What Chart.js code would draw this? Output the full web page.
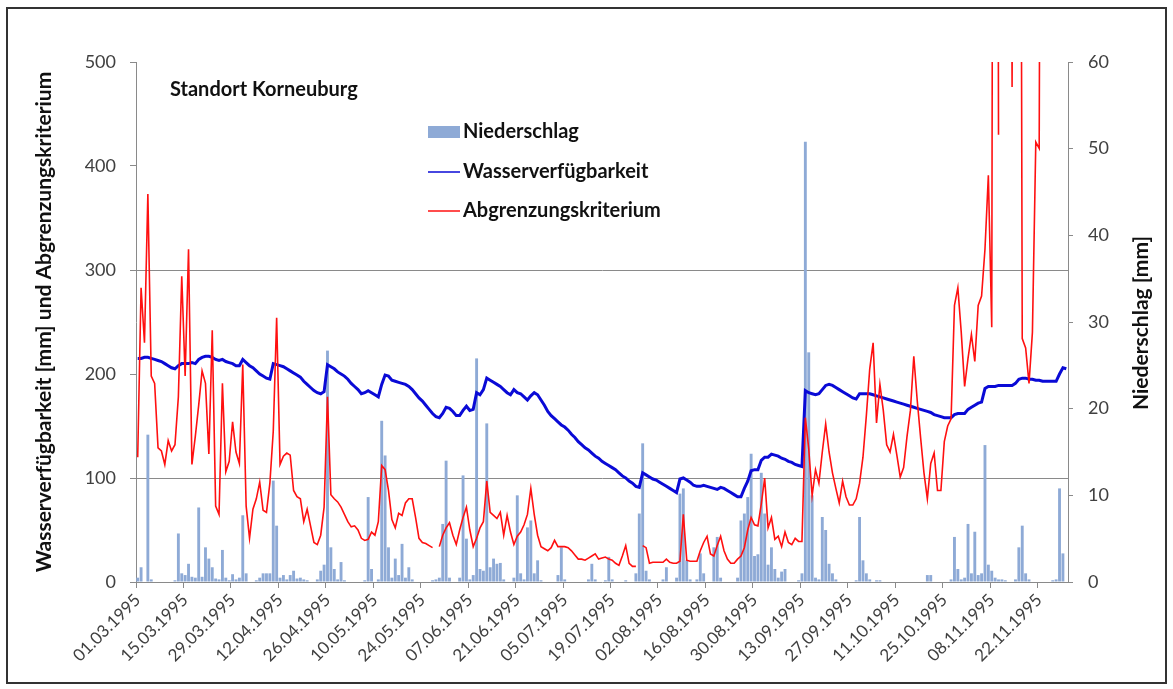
<!DOCTYPE html>
<html>
<head>
<meta charset="utf-8">
<script src="https://cdn.jsdelivr.net/npm/chart.js@4.4.0/dist/chart.umd.min.js"></script>
<style>
    html, body { margin: 0; padding: 0; background: #fff; }
    #wrap { width: 1173px; height: 689px; }
</style>
</head>
<body>
<div id="wrap"><canvas id="chart" width="1173" height="689"></canvas></div>
<script>
// Tageswerte 01.03.1995 - 30.11.1995 (275 Tage)
const FIRST_DAY = [1995, 2, 1];
const DAY_COUNT = 275;
const LABEL_EVERY = 14;

const chartTitle = "Standort Korneuburg";
const leftTitle = "Wasserverfügbarkeit [mm] und Abgrenzungskriterium";
const rightTitle = "Niederschlag [mm]";

// Niederschlag [mm] (rechte Achse)
const niederschlag = [
    0.5, 1.7, 0, 17, 0.3, 0, 0, 0, 0, 0, 0, 0.2, 5.6, 1.0,
    0.8, 2.1, 0.6, 0.5, 8.6, 0.6, 4.0, 2.7, 1.7, 0.4, 0.3, 3.7, 0.5, 0.2,
    0.9, 0.3, 0.5, 7.7, 1.0, 0, 0, 0.2, 0.5, 1.0, 1.0, 1.0, 11.7, 6.5,
    0.5, 0.8, 0.3, 0.8, 1.3, 0.4, 0.5, 0.3, 0.2, 0, 0, 0.3, 1.3, 2.0,
    26.7, 4.0, 1.5, 0.3, 2.3, 0.2, 0, 0, 0, 0, 0, 0.2, 9.8, 1.5,
    0, 0.3, 18.6, 14.6, 4.0, 0.5, 2.7, 0.8, 4.4, 0.5, 1.7, 0.3, 0, 0,
    0, 0, 0, 0.2, 0.3, 0.5, 6.7, 14.0, 0.5, 0, 0, 0.5, 12.3, 5.0,
    0.3, 0.8, 25.8, 1.5, 1.3, 18.3, 1.7, 2.7, 2.1, 2.2, 0.3, 0, 0, 0.5,
    10.0, 1.0, 0.3, 6.3, 7.1, 1.0, 2.5, 0.2, 0, 0, 0, 0, 0.8, 4.0,
    0.3, 0, 0, 0, 0, 0, 0, 0.3, 2.1, 0.3, 0, 0, 0.2, 2.9,
    0.3, 0, 0, 0, 0.2, 0, 0, 1.0, 7.9, 16.0, 1.3, 0.3, 0, 0,
    0, 0.3, 1.7, 0, 0, 0.5, 10.2, 10.8, 2.5, 0.3, 0, 0.3, 3.3, 1.0,
    0, 0, 4.0, 5.2, 0.5, 0, 0, 0, 0, 0.5, 7.1, 7.9, 9.8, 14.8,
    3.0, 3.2, 12.6, 7.9, 2.0, 4.0, 1.5, 0.5, 1.2, 1.5, 0, 0, 0, 0.2,
    1.0, 50.8, 26.5, 10.0, 0.5, 0.3, 7.5, 6.0, 2.1, 1.0, 0.3, 0, 0, 0,
    0, 0, 0.2, 7.5, 2.5, 1.0, 0.3, 0, 0.2, 0.2, 0, 0, 0, 0,
    0, 0, 0, 0, 0, 0, 0, 0, 0, 0.8, 0.8, 0, 0, 0,
    0, 0, 0.3, 5.2, 1.5, 0.3, 0.5, 6.7, 1.0, 5.8, 0.8, 1.0, 15.8, 2.0,
    1.3, 0.5, 0.3, 0.3, 0.2, 0, 0, 0.3, 4.0, 6.5, 1.0, 0.3, 0, 0,
    0, 0, 0, 0, 0.2, 0.3, 10.8, 3.3, 0
];

// Wasserverfügbarkeit [mm] (linke Achse)
const wasserverfuegbarkeit = [
    215, 215, 216, 216, 215, 214, 213, 212, 210, 208, 206, 205, 208, 210,
    210, 210, 211, 210, 214, 216, 217, 217, 216, 214, 213, 214, 212, 211,
    210, 208, 208, 214, 211, 208, 206, 203, 200, 198, 196, 195, 210, 209,
    208, 207, 205, 203, 201, 199, 197, 193, 190, 187, 184, 182, 181, 183,
    209, 207, 205, 202, 200, 198, 195, 191, 188, 185, 181, 182, 184, 182,
    180, 178, 190, 199, 198, 194, 193, 192, 191, 190, 188, 185, 181, 177,
    174, 170, 166, 162, 159, 158, 162, 168, 167, 164, 160, 160, 165, 169,
    165, 166, 182, 180, 185, 196, 194, 192, 190, 188, 185, 182, 180, 185,
    182, 181, 178, 175, 179, 182, 180, 175, 170, 164, 160, 157, 154, 151,
    149, 146, 142, 139, 135, 132, 129, 127, 124, 121, 119, 116, 114, 112,
    110, 108, 105, 102, 100, 97, 95, 92, 91, 105, 103, 101, 99, 98,
    96, 94, 92, 90, 88, 86, 99, 100, 98, 96, 93, 92, 92, 93,
    92, 91, 90, 89, 91, 90, 88, 86, 84, 82, 82, 90, 97, 107,
    108, 108, 117, 120, 120, 123, 122, 121, 119, 118, 116, 115, 113, 112,
    111, 184, 182, 181, 180, 181, 185, 189, 190, 189, 187, 185, 183, 181,
    179, 177, 176, 181, 181, 181, 181, 180, 179, 178, 177, 176, 175, 174,
    173, 172, 171, 170, 169, 168, 167, 166, 165, 164, 163, 161, 160, 159,
    158, 158, 158, 161, 162, 162, 162, 166, 168, 170, 172, 173, 186, 188,
    188, 188, 189, 189, 189, 189, 189, 191, 195, 196, 196, 195, 195, 194,
    194, 193, 193, 193, 193, 193, 200, 206, 205
];

// Abgrenzungskriterium (linke Achse), null = kein Wert
const abgrenzungskriterium = [
    120, 283, 230, 373, 198, 191, 129, 126, 113, 136, 126, 132, 178, 294,
    198, 320, 113, 140, 170, 203, 191, 123, 242, 73, 65, 191, 106, 116,
    154, 125, 114, 209, 73, 42, 70, 80, 96, 69, 67, 95, 145, 254,
    113, 121, 124, 122, 88, 82, 80, 58, 70, 54, 38, 36, 45, 72,
    178, 84, 80, 77, 72, 65, 58, 53, 54, 50, 42, 40, 41, 48,
    45, 58, 112, 108, 88, 60, 52, 66, 64, 76, 80, 80, 62, 42,
    38, 37, 35, 33, null, 34, 45, 52, 57, 45, 36, 50, 62, 72,
    50, 34, 42, 52, 58, 97, 67, 64, 61, 67, 45, 64, 48, 36,
    44, 48, 55, 65, 90, 65, 45, 34, 32, 30, 33, 40, 34, 34,
    34, 33, 30, 26, 22, 22, 21, 23, 25, 27, 22, 23, 24, 22,
    21, 18, 16, 25, 35, 18, 15, 15, null, 35, 33, 18, 19, 19,
    19, 19, 22, 19, 18, 18, 20, 65, 21, 20, 20, 20, 30, 38,
    44, 27, 25, 35, 44, 30, 22, 18, 18, 22, 25, 33, 50, 62,
    55, 54, 75, 100, 52, 62, 41, 44, 34, 48, 38, 36, 42, 39,
    39, 158, 128, 83, 108, 95, 125, 152, 125, 105, 90, 76, 97, 82,
    74, 74, 80, 95, 120, 160, 205, 230, 153, 190, 165, 132, 125, 142,
    122, 101, 110, 140, 165, 217, 175, 139, 105, 80, 114, 124, 88, 88,
    135, 150, 157, 266, 283, 240, 188, 215, 238, 212, 266, 275, 320, 391,
    245, 2000, 430, null, null, 1500, 476, 1500, 1500, 234, 225, 191, 240, 423,
    417, 1500, null, null, null, null, null, null, null
];

// Achsen
const leftTicks = [0, 100, 200, 300, 400, 500];
const rightTicks = [0, 10, 20, 30, 40, 50, 60];
const leftGridAt = [100, 300];

// Farben
const barColor = "#8eaad6";
const blueColor = "#0a0ad6";
const redColor = "#ff1010";
const axisColor = "#8a8a8a";
const tickText = "#404040";
const FONT = "Lato, 'Open Sans', sans-serif";

function pad2(n) { return (n < 10 ? "0" : "") + n; }

const dateLabels = [];
for (let i = 0; i < DAY_COUNT; i++) {
    const d = new Date(FIRST_DAY[0], FIRST_DAY[1], FIRST_DAY[2] + i);
    dateLabels.push(pad2(d.getDate()) + "." + pad2(d.getMonth() + 1) + "." + d.getFullYear());
}

/* ===== frame, title, right axis title, legend ===== */
const decorPlugin = {
    id: "decor",
    beforeDraw(chart) {
        const ctx = chart.ctx;
        ctx.save();
        ctx.fillStyle = "#fff";
        ctx.fillRect(0, 0, chart.width, chart.height);
        ctx.restore();
    },
    afterDraw(chart) {
        const ctx = chart.ctx;
        ctx.save();

        // frame
        ctx.strokeStyle = "#333";
        ctx.lineWidth = 2;
        ctx.strokeRect(7, 8, 1159, 675);

        // title in plot
        ctx.fillStyle = "#111";
        ctx.font = "bold 20px " + FONT;
        ctx.textAlign = "left";
        ctx.textBaseline = "middle";
        ctx.fillText(chartTitle, 170, 90);

        // right axis title (reads bottom to top)
        ctx.save();
        ctx.translate(1141, 323);
        ctx.rotate(-Math.PI / 2);
        ctx.textAlign = "center";
        ctx.font = "bold 21px " + FONT;
        ctx.fillText(rightTitle, 0, 0);
        ctx.restore();

        // legend
        const ds = chart.data.datasets;
        const rows = [132, 172, 211];
        ctx.font = "bold 20px " + FONT;
        ds.forEach((d, i) => {
            const y = rows[i];
            if (d.type === "line") {
                ctx.strokeStyle = d.borderColor;
                ctx.lineWidth = 1.5;
                ctx.beginPath();
                ctx.moveTo(428, y);
                ctx.lineTo(460, y);
                ctx.stroke();
            } else {
                ctx.fillStyle = d.backgroundColor;
                ctx.fillRect(428, y - 6, 32, 12);
            }
            ctx.fillStyle = "#111";
            ctx.fillText(d.label, 463, y);
        });

        ctx.restore();
    }
};

new Chart(document.getElementById("chart"), {
    type: "bar",
    data: {
        labels: dateLabels,
        datasets: [
            {
                label: "Niederschlag",
                data: niederschlag,
                yAxisID: "y2",
                backgroundColor: barColor,
                barPercentage: 0.85,
                categoryPercentage: 1.0,
                order: 3
            },
            {
                type: "line",
                label: "Wasserverfügbarkeit",
                data: wasserverfuegbarkeit,
                yAxisID: "y",
                borderColor: blueColor,
                borderWidth: 3,
                pointRadius: 0,
                tension: 0,
                order: 2
            },
            {
                type: "line",
                label: "Abgrenzungskriterium",
                data: abgrenzungskriterium,
                yAxisID: "y",
                borderColor: redColor,
                borderWidth: 1.6,
                pointRadius: 0,
                tension: 0,
                spanGaps: false,
                order: 1
            }
        ]
    },
    options: {
        responsive: false,
        animation: false,
        devicePixelRatio: 1,
        layout: { padding: { top: 62, left: 0, right: 0, bottom: 0 } },
        plugins: {
            legend: { display: false },
            tooltip: { enabled: false }
        },
        scales: {
            x: {
                offset: true,
                grid: {
                    offset: true,
                    drawOnChartArea: false,
                    tickLength: 6,
                    tickColor: c => (c.index % LABEL_EVERY === 0 ? axisColor : "rgba(0,0,0,0)")
                },
                border: { color: axisColor },
                ticks: {
                    autoSkip: false,
                    maxRotation: 45,
                    minRotation: 45,
                    padding: 2,
                    color: tickText,
                    font: { family: FONT, size: 17 },
                    callback: (v, i) => (i % LABEL_EVERY === 0 ? dateLabels[i] : "")
                },
                afterFit: s => { s.height = 107; }
            },
            y: {
                position: "left",
                min: leftTicks[0],
                max: leftTicks[leftTicks.length - 1],
                afterBuildTicks: s => { s.ticks = leftTicks.map(v => ({ value: v })); },
                grid: {
                    color: c => (leftGridAt.includes(c.tick.value) ? axisColor : "rgba(0,0,0,0)"),
                    tickColor: axisColor,
                    tickLength: 6
                },
                border: { color: axisColor },
                ticks: {
                    padding: 14,
                    color: tickText,
                    font: { family: FONT, size: 18 }
                },
                title: {
                    display: true,
                    text: leftTitle,
                    color: "#111",
                    font: { family: FONT, size: 21, weight: "bold" },
                    padding: { top: 32, bottom: 0 }
                },
                afterFit: s => { s.width = 136; }
            },
            y2: {
                position: "right",
                min: rightTicks[0],
                max: rightTicks[rightTicks.length - 1],
                afterBuildTicks: s => { s.ticks = rightTicks.map(v => ({ value: v })); },
                grid: {
                    drawOnChartArea: false,
                    tickColor: axisColor,
                    tickLength: 5
                },
                border: { color: axisColor },
                ticks: {
                    padding: 15,
                    color: tickText,
                    font: { family: FONT, size: 18 }
                },
                afterFit: s => { s.width = 105; }
            }
        }
    },
    plugins: [decorPlugin]
});
</script>
</body>
</html>
